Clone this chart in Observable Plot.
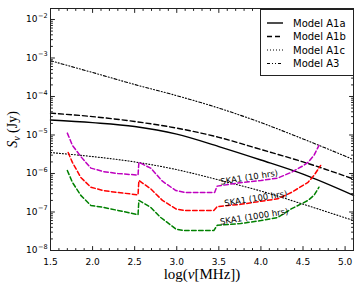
<!DOCTYPE html>
<html><head><meta charset="utf-8">
<script src="https://cdn.jsdelivr.net/npm/d3@7"></script>
<script src="https://cdn.jsdelivr.net/npm/@observablehq/plot@0.6"></script>
<style>body{margin:0;background:#fff} svg{display:block}</style>
</head><body><div id="chart"></div>
<script>
// ---- data (x = log10(nu/MHz), y = S_nu in Jy) ----
const modelX   = [1.5, 2.0, 2.5, 3.0, 3.5, 4.0, 4.5, 5.1];
const modelA1a = [2.45e-5, 2.09e-5, 1.66e-5, 1.05e-5, 5.0e-6, 2.24e-6, 9.6e-7, 2.7e-7];
const modelA1b = [3.7e-5, 3.0e-5, 2.24e-5, 1.51e-5, 8.7e-6, 4.2e-6, 2.0e-6, 7.2e-7];
const modelA1c = [3.5e-6, 2.75e-6, 2.0e-6, 1.26e-6, 6.8e-7, 3.5e-7, 1.6e-7, 6.0e-8];
const modelA3  = [8.5e-4, 4.2e-4, 2.05e-4, 1.05e-4, 5.0e-5, 2.1e-5, 7.9e-6, 2.3e-6];
const modelNames = ["Model A1a", "Model A1b", "Model A1c", "Model A3"];

const ska10X = [1.70,1.76,1.86,1.98,2.13,2.30,2.54,2.55,2.69,2.83,2.99,3.10,3.45,3.48,3.75,4.00,4.20,4.36,4.50,4.56,4.63,4.69];
const ska10Y = [1.12e-5,5.4e-6,2.75e-6,1.38e-6,1.12e-6,1.0e-6,9.1e-7,1.95e-6,1.38e-6,6.3e-7,3.6e-7,3.2e-7,3.2e-7,4.7e-7,5.75e-7,6.6e-7,7.6e-7,1.07e-6,1.58e-6,1.95e-6,2.95e-6,5.4e-6];
const ska100X = [1.71,1.76,1.86,1.98,2.13,2.30,2.54,2.55,2.69,2.83,2.99,3.08,3.44,3.48,3.76,4.00,4.20,4.36,4.56,4.63,4.71];
const ska100Y = [3.5e-6,1.95e-6,7.9e-7,4.4e-7,3.6e-7,3.2e-7,2.8e-7,6.6e-7,4.0e-7,2.0e-7,1.2e-7,1.1e-7,1.1e-7,1.38e-7,1.58e-7,1.9e-7,2.2e-7,3.2e-7,5.9e-7,8.9e-7,1.62e-6];
const ska1000X = [1.70,1.76,1.86,1.98,2.13,2.30,2.54,2.55,2.69,2.81,2.99,3.08,3.44,3.48,3.76,4.00,4.20,4.36,4.56,4.63,4.69];
const ska1000Y = [1.2e-6,5.9e-7,2.7e-7,1.48e-7,1.32e-7,1.1e-7,8.5e-8,2.0e-7,1.32e-7,7.2e-8,3.6e-8,3.3e-8,3.3e-8,4.5e-8,5.0e-8,6.0e-8,7.2e-8,1.2e-7,2.0e-7,2.7e-7,4.4e-7];
const skaNames = ["SKA1 (10 hrs)", "SKA1 (100 hrs)", "SKA1 (1000 hrs)"];
const skaLabelX = [3.86, 3.94, 3.92];
const skaLabelY = [7.9e-7, 2.24e-7, 7.6e-8];

const xTicks = [1.5, 2.0, 2.5, 3.0, 3.5, 4.0, 4.5, 5.0];
const xTickLabels = ["1.5", "2.0", "2.5", "3.0", "3.5", "4.0", "4.5", "5.0"];
const yTicks = [1e-8, 1e-7, 1e-6, 1e-5, 1e-4, 1e-3, 1e-2];
const yTickExps = ["\u22128", "\u22127", "\u22126", "\u22125", "\u22124", "\u22123", "\u22122"];

// ---- build tables ----
const modelYs = [modelA1a, modelA1b, modelA1c, modelA3];
const modelStyle = [
  {dash: null, w: 1.4},
  {dash: "5,3", w: 1.4},
  {dash: "1,2", w: 1.1},
  {dash: "3,2,1,2,1,2", w: 1.1}
];
const skaSets = [[ska10X, ska10Y], [ska100X, ska100Y], [ska1000X, ska1000Y]];
const skaColors = ["#bf00bf", "#ff0000", "#008000"];

const xMinor = d3.range(15, 52).map(d => d / 10).filter(d => !xTicks.some(t => Math.abs(t - d) < 1e-9));
const yMinor = [];
for (let e = -8; e <= -2; e++) for (let m = 2; m <= 9; m++) { const v = m * 10 ** e; if (v < 0.0193) yMinor.push(v); }

const tickShape = {draw(ctx, l) { ctx.moveTo(0, 0); ctx.lineTo(0, -l); }};
const frameColor = "#222";
const sans = "DejaVu Sans";
const serif = "Liberation Serif";

const marks = [];
modelYs.forEach((ys, i) => {
  const rows = modelX.map((x, j) => ({x, y: ys[j]}));
  marks.push(Plot.line(rows, {x: "x", y: "y", stroke: "black", strokeWidth: modelStyle[i].w,
    strokeDasharray: modelStyle[i].dash, curve: "monotone-x"}));
});
skaSets.forEach(([xs, ys], i) => {
  const rows = xs.map((x, j) => ({x, y: ys[j]}));
  marks.push(Plot.line(rows, {x: "x", y: "y", stroke: skaColors[i], strokeWidth: 1.5, strokeDasharray: "4.5,2.5"}));
});
// SKA labels
skaNames.forEach((n, i) => {
  marks.push(Plot.text([n], {x: () => skaLabelX[i], y: () => skaLabelY[i], text: d => d, rotate: -9,
    fontSize: 8.5, fontFamily: sans, fill: "black", textAnchor: "middle", lineAnchor: "middle"}));
});
// frame + inward ticks
marks.push(Plot.frame({stroke: frameColor, strokeWidth: 1}));
const tk = (data, anchor, rot, len, ch) => Plot.vector(data, {[ch]: d => d, frameAnchor: anchor, rotate: rot,
  length: len, anchor: "start", shape: tickShape, stroke: frameColor, strokeWidth: 1});
marks.push(tk(xTicks, "bottom", 0, 4, "x"), tk(xMinor, "bottom", 0, 2, "x"));
marks.push(tk(xTicks, "top", 180, 4, "x"), tk(xMinor, "top", 180, 2, "x"));
marks.push(tk(yTicks, "left", 90, 4, "y"), tk(yMinor, "left", 90, 2, "y"));
marks.push(tk(yTicks, "right", -90, 4, "y"), tk(yMinor, "right", -90, 2, "y"));
// tick labels
marks.push(Plot.text(xTicks, {x: d => d, frameAnchor: "bottom", text: (d, i) => xTickLabels[i], dy: 12,
  lineAnchor: "middle", fontSize: 9, fontFamily: sans, fill: "black"}));
marks.push(Plot.text(yTicks, {y: d => d, frameAnchor: "left", text: () => "10", textAnchor: "end", dx: -13,
  lineAnchor: "middle", fontSize: 9, fontFamily: sans, fill: "black"}));
marks.push(Plot.text(yTicks, {y: d => d, frameAnchor: "left", text: (d, i) => yTickExps[i], textAnchor: "start", dx: -12.5, dy: -4,
  lineAnchor: "middle", fontSize: 6.5, fontFamily: sans, fill: "black"}));
// axis titles
marks.push(Plot.text(["XLABEL"], {frameAnchor: "bottom", text: d => d, dy: 24, lineAnchor: "middle",
  fontSize: 15, fontFamily: serif, fill: "black"}));
marks.push(Plot.text(["YLABEL"], {frameAnchor: "left", text: d => d, dx: -38, rotate: -90, lineAnchor: "middle",
  textAnchor: "middle", fontSize: 14, fontFamily: serif, fill: "black"}));

const chart = Plot.plot({
  width: 357, height: 291,
  marginLeft: 50, marginRight: 4, marginTop: 8, marginBottom: 41,
  style: {fontFamily: sans, background: "white"},
  x: {domain: [1.5, 5.1], axis: null},
  y: {type: "log", domain: [1e-8, 0.0193], axis: null},
  marks
});
document.getElementById("chart").append(chart);

// rich text for axis titles
const svg = d3.select(chart);
svg.selectAll("text").filter(function() { return this.textContent === "XLABEL"; }).each(function() {
  const t = d3.select(this); t.text(null);
  t.append("tspan").text("log(");
  t.append("tspan").attr("font-style", "italic").text("\u03bd");
  t.append("tspan").text("[MHz])");
});
svg.selectAll("text").filter(function() { return this.textContent === "YLABEL"; }).each(function() {
  const t = d3.select(this); t.text(null);
  t.append("tspan").attr("font-style", "italic").text("S");
  t.append("tspan").attr("font-style", "italic").attr("font-size", "10").attr("dy", "3").text("\u03bd");
  t.append("tspan").attr("dy", "-3").text(" (Jy)");
});

// legend
const lg = svg.append("g").attr("transform", "translate(260,9)");
lg.append("rect").attr("x", 0.5).attr("y", 0.5).attr("width", 93).attr("height", 66)
  .attr("fill", "white").attr("stroke", "#222").attr("stroke-width", 1);
modelNames.forEach((n, i) => {
  const cy = 14 + i * 13.5;
  lg.append("line").attr("x1", 7).attr("x2", 23).attr("y1", cy).attr("y2", cy)
    .attr("stroke", "black").attr("stroke-width", modelStyle[i].w)
    .attr("stroke-dasharray", modelStyle[i].dash);
  lg.append("text").attr("x", 33).attr("y", cy).attr("dy", "0.35em").attr("text-anchor", "start")
    .attr("font-family", sans).attr("font-size", 10).attr("fill", "black").text(n);
});
</script>
</body></html>
